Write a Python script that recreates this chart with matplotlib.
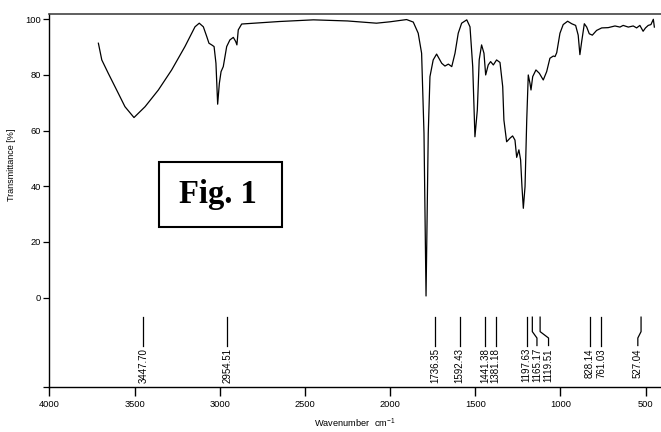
import numpy as np
import matplotlib
matplotlib.use("Agg")
import matplotlib.pyplot as plt
from matplotlib.patches import Rectangle

plt.rcParams["font.family"] = ["Liberation Sans", "DejaVu Sans"]
plt.rcParams["mathtext.fontset"] = "custom"
plt.rcParams["mathtext.rm"] = "Liberation Sans"

# IR spectrum (wavenumber cm-1, transmittance %)
wavenumber = [3712, 3692, 3654, 3595, 3556, 3503, 3438, 3360, 3282, 3204,
              3145, 3120, 3096, 3076, 3063, 3047, 3033, 3022, 3012, 3002,
              2992, 2979, 2969, 2959, 2940, 2920, 2906, 2899, 2891, 2871,
              2650, 2450, 2250, 2080, 2000, 1903, 1864, 1835, 1815, 1801,
              1789, 1776, 1766, 1747, 1727, 1697, 1678, 1658, 1638, 1619,
              1600, 1580, 1550, 1531, 1515, 1502, 1488, 1477, 1463, 1449,
              1439, 1424, 1410, 1394, 1375, 1355, 1339, 1332, 1316, 1296,
              1281, 1267, 1257, 1244, 1234, 1226, 1218, 1208, 1198, 1189,
              1179, 1173, 1163, 1144, 1124, 1101, 1081, 1062, 1042, 1032,
              1022, 1003, 984, 958, 934, 911, 896, 886, 876, 860,
              846, 831, 813, 788, 758, 720, 680, 651, 632, 602,
              573, 553, 534, 515, 501, 485, 469, 455, 449]
transmittance = [91.4, 85.4, 80.6, 73.4, 68.6, 64.7, 68.6, 74.6, 81.8, 90.2,
                 97.3, 98.6, 97.3, 93.8, 91.4, 90.8, 90.2, 84.2, 69.5, 77.0,
                 81.2, 83.0, 86.6, 90.2, 92.6, 93.5, 92.0, 90.8, 96.2, 98.3,
                 99.2, 99.8, 99.4, 98.6, 99.1, 99.9, 99.0, 95.0, 87.8, 59.0,
                 0.6, 59.0, 79.4, 85.4, 87.5, 84.2, 83.2, 83.9, 83.0, 87.8,
                 95.0, 98.6, 99.8, 97.3, 83.0, 57.8, 67.4, 85.4, 90.8, 87.8,
                 80.0, 83.6, 84.8, 83.6, 85.4, 84.5, 75.8, 63.8, 56.0, 57.3,
                 58.1, 56.6, 50.4, 53.1, 49.5, 39.9, 32.1, 39.9, 63.8, 80.0,
                 77.0, 74.6, 79.4, 81.8, 80.6, 78.2, 81.2, 86.0, 86.8, 86.6,
                 88.0, 95.0, 98.1, 99.3, 98.4, 97.8, 94.3, 87.3, 91.8, 98.4,
                 97.2, 94.8, 94.3, 96.0, 96.9, 97.0, 97.6, 97.2, 97.8, 97.2,
                 97.6, 96.9, 97.8, 95.7, 96.9, 97.8, 98.1, 100.0, 97.2]

# annotated peaks and where their labels sit
peaks = [3447.70, 2954.51, 1736.35, 1592.43, 1441.38, 1381.18,
         1197.63, 1165.17, 1119.51, 828.14, 761.03, 527.04]
label_pos = [3447.70, 2954.51, 1736.35, 1592.43, 1441.38, 1381.18,
             1197.63, 1138.0, 1070.0, 828.14, 761.03, 546.0]

fig = plt.figure(figsize=(6.61, 4.32), dpi=100)
ax = fig.add_axes([0.0746, 0.1035, 0.9254, 0.8641])

ax.plot(wavenumber, transmittance, color="black", lw=0.9)

# peak marker lines with labels below
TOP, K1, K2, BOT, LAB = -7.0, -12.2, -14.5, -17.2, -18.1
for p, lp in zip(peaks, label_pos):
    ax.plot([p, p, lp, lp], [TOP, K1, K2, BOT], color="black", lw=0.9)
    ax.text(lp, LAB, f"{p:.2f}", rotation=90, ha="center", va="top", fontsize=7)

ax.set_xlim(4000, 410)
ax.set_ylim(-32.2, 101.9)
ax.set_xticks([4000, 3500, 3000, 2500, 2000, 1500, 1000, 500])
ax.set_yticks([-32.2, 0, 20, 40, 60, 80, 100])
ax.set_yticklabels(["", "0", "20", "40", "60", "80", "100"])
ax.tick_params(axis="x", length=6.5, width=1.0, pad=3, labelsize=6.7)
ax.tick_params(axis="y", length=4.3, width=0.9, pad=1.5, labelsize=6.7)

for s in ["left", "bottom"]:
    ax.spines[s].set_linewidth(1.0)
ax.spines["top"].set_linewidth(1.2)
ax.spines["top"].set_color("#444444")
ax.spines["right"].set_visible(False)

ax.set_xlabel("Wavenumber  cm$^{-1}$", fontsize=6.7, labelpad=5)
ax.set_ylabel("Transmittance [%]", fontsize=6.5)
ax.yaxis.set_label_coords(-0.054, 0.595)

# "Fig. 1" box
fig.patches.append(Rectangle((0.241, 0.4738), 0.1856, 0.1505, transform=fig.transFigure,
                             fill=False, lw=1.5, edgecolor="black"))
fig.text(0.329, 0.5294, "Fig. 1", ha="center", va="baseline", fontsize=23.5,
         fontweight="bold", family="Liberation Serif")

fig.savefig("out.png", dpi=100)
